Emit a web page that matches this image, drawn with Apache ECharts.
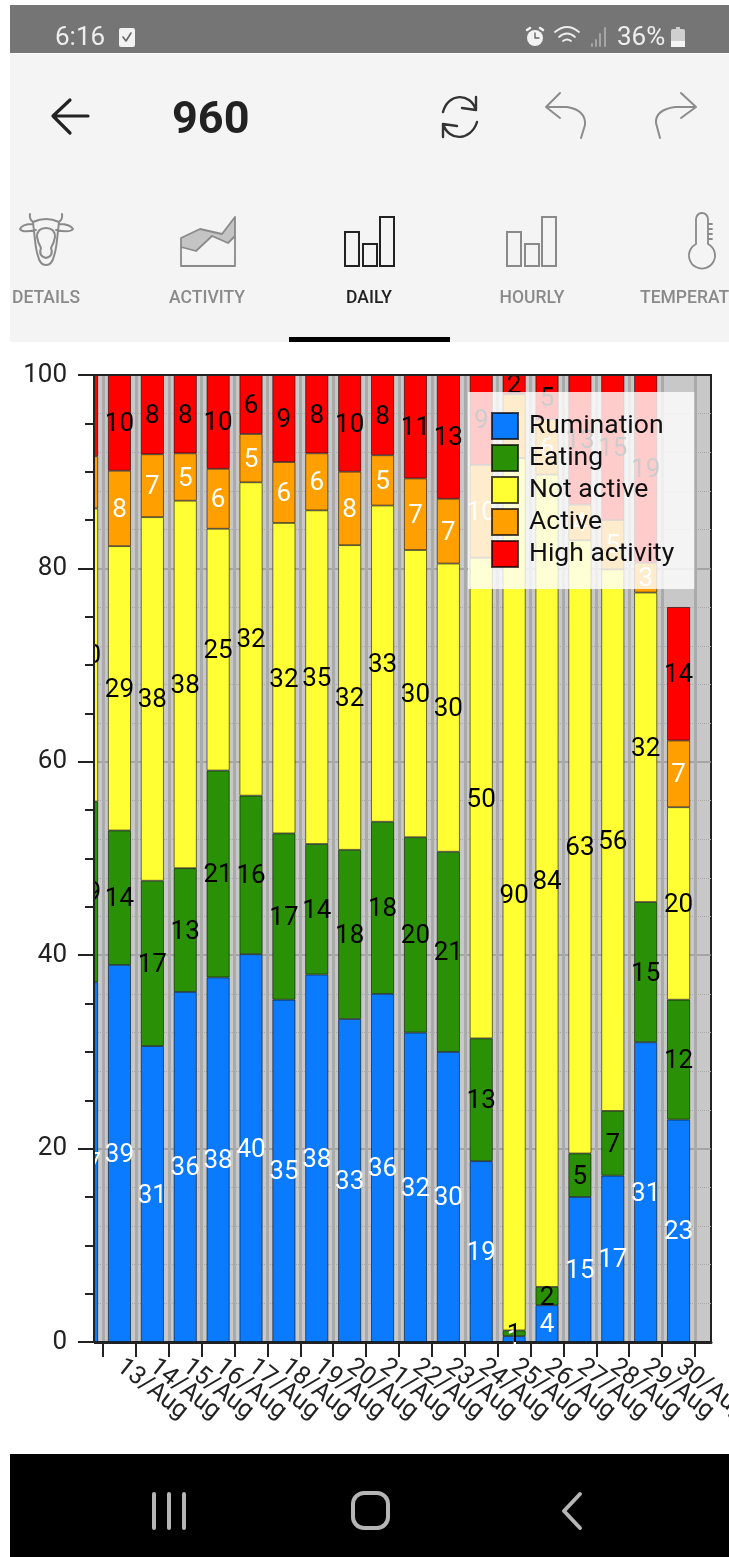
<!DOCTYPE html>
<html>
<head>
<meta charset="utf-8">
<style>html,body{margin:0;padding:0;background:#fff}#c{width:729px;height:1557px}</style>
<script src="https://cdn.jsdelivr.net/npm/echarts@6/dist/echarts.min.js"></script>
</head>
<body>
<div id="c"></div>
<script>
const categories = ['12/Aug','13/Aug','14/Aug','15/Aug','16/Aug','17/Aug','18/Aug','19/Aug','20/Aug','21/Aug','22/Aug','23/Aug','24/Aug','25/Aug','26/Aug','27/Aug','28/Aug','29/Aug','30/Aug'];
const rumination = [37.2,39.0,30.6,36.2,37.7,40.1,35.4,38.0,33.4,36.0,32.0,30.0,18.7,0.6,3.8,15.0,17.2,31.0,23.0];
const eating     = [18.7,13.9,17.1,12.8,21.4,16.4,17.2,13.5,17.5,17.8,20.2,20.7,12.7,0.6,1.9,4.5,6.7,14.5,12.4];
const notActive  = [30.3,29.4,37.6,38.0,25.0,32.4,32.1,34.5,31.5,32.7,29.7,29.8,49.7,90.2,84.0,63.4,56.0,32.0,19.9];
const active     = [5.4,7.8,6.5,4.9,6.2,5.0,6.3,5.9,7.6,5.2,7.4,6.7,9.6,6.6,5.7,3.7,5.1,3.1,6.9];
const highActivity = [8.4,9.9,8.2,8.1,9.7,6.1,9.0,8.1,10.0,8.3,10.7,12.8,9.3,2.0,5.0,13.4,15.0,19.4,13.8];
const seriesNames = ['Rumination','Eating','Not active','Active','High activity'];
const seriesColors = ['#0a7bff','#2a9106','#ffff33','#ff9f00','#ff0000'];
const labelColors = ['#ffffff','#000000','#000000','#ffffff','#000000'];
const seriesValues = [rumination,eating,notActive,active,highActivity];
const font = 'Roboto';

const bandTicks = categories.map((_, i) => i + 1);
const bandCentres = categories.map((_, i) => i + 0.5);
const xMin = 0.726, xMax = 19.486;

let shapeCount = 0;
const stroke = (d, color, w) => {
  const name = 'icon' + (shapeCount++);
  echarts.graphic.registerShape(name, echarts.graphic.extendPath(d, {}));
  return {type:name, z:1, style:{fill:'none', stroke:color, lineWidth:w, lineCap:'round', lineJoin:'round'}};
};
const box = (x,y,w,h,fill,z) => ({type:'rect', z:z||0, shape:{x,y,width:w,height:h}, style:{fill}});
const txt = (s,x,y,size,color,weight,align) => ({type:'text', z:1, x, y, style:{text:s, fontFamily:font, fontSize:size, fill:color, fontWeight:weight||400, align:align||'center', verticalAlign:'middle'}});
const outline = (x,y,w,h,color) => ({type:'rect', z:1, shape:{x,y,width:w,height:h}, style:{fill:'none', stroke:color, lineWidth:2}});
const grayIcon = '#8a8a8a';

const chrome = [
  box(10,5,719,48,'#757575'),
  box(10,54,719,288,'#f4f4f4'),
  box(10,1454,719,103,'#000000'),
  txt('6:16',55,38,26,'#eeeeee',400,'left'),
  {type:'rect', z:1, shape:{x:119,y:28,width:16,height:19,r:2}, style:{fill:'#f2f2f2'}},
  stroke('M123 37 L126 41 L131 33','#666666',1.6),
  {type:'circle', z:1, shape:{cx:535,cy:38,r:8}, style:{fill:'#f2f2f2'}},
  stroke('M535 33 V38 H539','#666666',1.4),
  stroke('M527 30 L530 28 M543 30 L540 28','#f2f2f2',2.5),
  stroke('M555 32 Q567 22 579 32 M559 37 Q567 30 575 37 M563 41 Q567 38 571 41','#eeeeee',1.8),
  stroke('M592 46 V44 M596 46 V40 M600 46 V34 M605 46 V28','#a5a5a5',2),
  txt('36%',617,38,26,'#eeeeee',400,'left'),
  {type:'rect', z:1, shape:{x:671,y:29,width:14,height:18,r:2}, style:{fill:'#cfcfcf'}},
  box(671,41,14,6,'#f4f4f4',1),
  box(676,27,4,2,'#cfcfcf',1),

  stroke('M53 116 H88 M70 100 L53 116 L70 133','#222222',3.2),
  txt('960',172,122,45,'#222222',700,'left'),
  stroke('M476 110 C470 92 448 93 443 112 M476 97 L476 110 L462 108','#333333',2.4),
  stroke('M443 124 C449 142 471 141 477 122 M443 137 L443 124 L457 126','#333333',2.4),
  stroke('M560 93 L546 107 L560 118 M546 107 H567 Q586 110 585 125 L581 138','#8c8c8c',2),
  stroke('M681 93 L696 107 L681 118 M696 107 H675 Q655 110 656 123 L660 138','#8c8c8c',2),

  stroke('M33 222 Q46 216 59 222 L57 240 Q56 250 54 256 Q52 265 46 265 Q40 265 38 256 Q36 250 35 240 Z M46 228 Q37 228 37 237 Q38 243 41 248 Q38 256 46 258 Q54 256 51 248 Q54 243 55 237 Q55 228 46 228 M33 224 Q22 224 20 229 Q22 233 36 230 M59 224 Q70 224 73 229 Q70 233 56 230 M33 222 Q29 219 30 214 M59 222 Q63 219 62 214',grayIcon,2),
  {type:'polygon', z:1, shape:{points:[[181,238],[200,229],[222,234],[235,217],[235,236],[228,243],[212,236],[196,251],[181,247]]}, style:{fill:'#c4c4c4'}},
  stroke('M181 238 L200 229 L222 234 L235 217 V266 H181 Z M181 247 L196 251 L212 236 L228 243 L235 236',grayIcon,1.8),
  outline(345,232,14,34,'#222222'), outline(363,244,14,22,'#222222'), outline(380,217,14,49,'#222222'),
  outline(507,232,14,34,grayIcon), outline(525,244,14,22,grayIcon), outline(542,217,14,49,grayIcon),
  stroke('M696 244 V219 A6 6 0 0 1 708 219 V244 A13 13 0 1 1 696 244 Z M708 224 H712 M708 229 H712 M708 234 H712 M708 239 H712',grayIcon,1.8),

  txt('DETAILS',46,299,17.5,'#8a8a8a',500),
  txt('ACTIVITY',207,299,17.5,'#8a8a8a',500),
  txt('DAILY',369,299,17.5,'#222222',500),
  txt('HOURLY',532,299,17.5,'#8a8a8a',500),
  txt('TEMPERAT',640,299,17.5,'#8a8a8a',500,'left'),
  box(289,337,161,5,'#000000'),

  stroke('M154 1494 V1528 M169 1494 V1528 M184 1494 V1528','#b5b5b5',4),
  {type:'rect', z:1, shape:{x:353,y:1493,width:35,height:35,r:11}, style:{fill:'none', stroke:'#b5b5b5', lineWidth:4}},
  stroke('M580 1494 L564 1511 L580 1528','#b5b5b5',4),

  // Hides the part of the first bar and its labels that the plot area cuts off
  box(68,370,26,975,'#ffffff',5)
];

const series = seriesNames.map((name, s) => ({
  name, type:'bar', stack:'day', barWidth:23, z:2,
  encode:{x:1, y:0},
  data: seriesValues[s].map((v, i) => [v, bandCentres[i]]),
  itemStyle:{color:seriesColors[s], borderColor:'rgba(0,0,0,0.7)', borderWidth:0.8},
  emphasis:{disabled:true},
  label:{show:true, position:'inside', offset:[0,2], color:labelColors[s], fontFamily:font, fontSize:26,
    textBorderWidth:0,
    formatter:p => String(Math.round(p.value[0]))}
}));

const lineStyle = {color:'#222222', width:2};

echarts.init(document.getElementById('c')).setOption({
  animation:false,
  backgroundColor:'#ffffff',
  graphic:{elements:chrome},
  grid:{left:94, top:375, width:617, height:967, show:true, backgroundColor:'#c8c8c8', borderWidth:2, borderColor:'#222222', outerBoundsMode:'none'},
  legend:{
    data:seriesNames, orient:'vertical', left:468, top:392, icon:'rect', z:4,
    itemWidth:26, itemHeight:26, itemGap:4, align:'left',
    backgroundColor:'rgba(255,255,255,0.8)', padding:[20,20,21,23],
    textStyle:{fontFamily:font, fontSize:26.5, lineHeight:26, color:'#111111', padding:[0,0,0,6]},
    selectedMode:false
  },
  xAxis:[{
    type:'value', min:xMin, max:xMax, position:'bottom',
    axisLine:{show:true, onZero:false, lineStyle:{color:'#222222', width:3}},
    axisTick:{show:true, customValues:bandTicks, length:15, lineStyle},
    axisLabel:{show:true, customValues:[0.8].concat(bandCentres.slice(1), [19.4]), rotate:-38, margin:22, fontFamily:font, fontSize:25, color:'#222222',
      formatter:v => (v > 1 && v < 19) ? categories[Math.floor(v)] : ''},
    splitLine:{show:true, lineStyle:{color:'#aaaaaa', width:3}}
  },{
    type:'value', min:xMin, max:xMax, position:'top', z:10,
    axisLine:{show:true, onZero:false, lineStyle},
    axisTick:{show:false}, axisLabel:{show:false}, splitLine:{show:false}
  }],
  yAxis:[{
    type:'value', min:0, max:100, interval:20,
    axisLine:{show:false}, axisTick:{show:false}, axisLabel:{show:false},
    splitLine:{show:true, lineStyle:{color:'#9a9a9a', width:1.5}},
    minorSplitLine:{show:true, lineStyle:{color:'#a8a8a8', width:1, type:'dotted'}}
  },{
    type:'value', min:0, max:100, interval:20, position:'right', offset:-617, z:10,
    axisLine:{show:true, onZero:false, lineStyle},
    axisTick:{show:true, inside:true, length:16, lineStyle},
    minorTick:{show:true, splitNumber:4, length:9, lineStyle},
    axisLabel:{inside:true, margin:27, fontFamily:font, fontSize:26, color:'#222222'},
    splitLine:{show:false}
  }],
  series
});
</script>
</body>
</html>
